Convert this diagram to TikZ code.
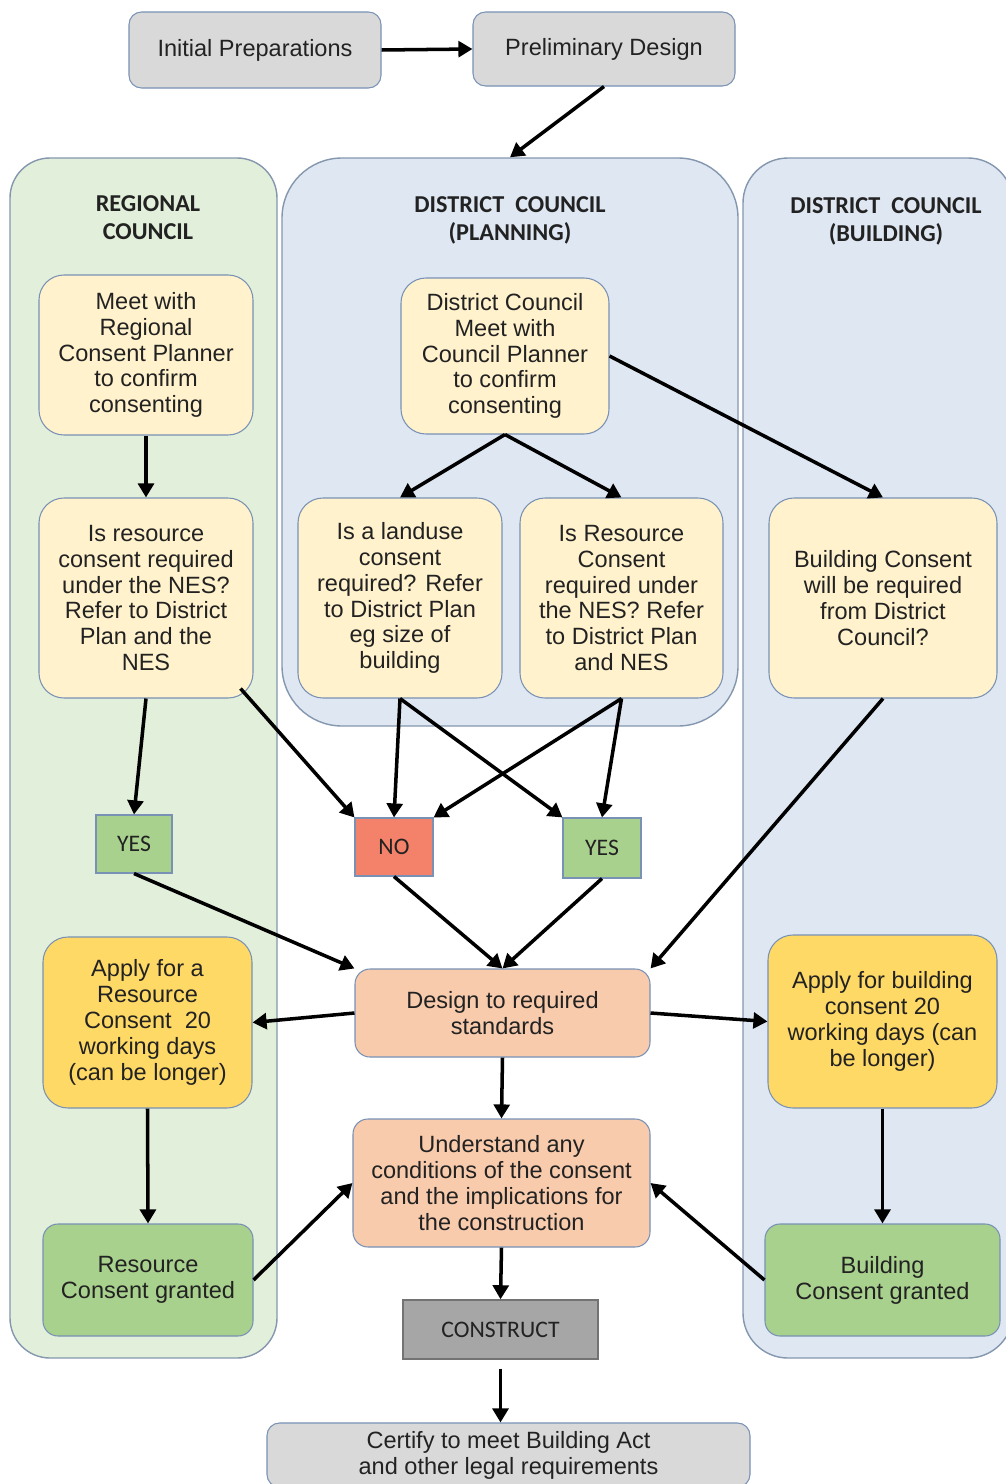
\documentclass[tikz,border=0pt]{standalone}
\usepackage{fontspec}
\setmainfont{Liberation Sans}
\newfontfamily\calib{Carlito}
\usetikzlibrary{arrows.meta,calc}
\definecolor{panelgreen}{HTML}{E2EFDA}
\definecolor{panelblue}{HTML}{DEE7F2}
\definecolor{panelline}{HTML}{8497AE}
\definecolor{nodeline}{HTML}{7891B5}
\definecolor{lightyel}{HTML}{FFF2CC}
\definecolor{yel}{HTML}{FFD966}
\definecolor{grn}{HTML}{A9D18E}
\definecolor{noc}{HTML}{F4816A}
\definecolor{peach}{HTML}{F8CBAD}
\definecolor{gry}{HTML}{D9D9D9}
\definecolor{dgry}{HTML}{A6A6A6}
\definecolor{txt}{HTML}{222222}
\begin{document}
\begin{tikzpicture}[x=0.02cm,y=-0.02cm,
  sz/.style 2 args={minimum width=#1*0.02cm, minimum height=#2*0.02cm},
  panel/.style={draw=panelline, line width=0.8pt, inner sep=0pt},
  hdr/.style={align=center, text=txt, font=\calib\bfseries\fontsize{13.8}{15.9}\selectfont},
  box/.style={draw=nodeline, line width=0.6pt, rounded corners=0.5cm, align=center, inner sep=0pt, text=txt, font=\fontsize{13.4}{14.7}\selectfont},
  sq/.style={draw=nodeline, line width=0.6pt, align=center, inner sep=0pt, text=txt, font=\calib\fontsize{13.5}{15}\selectfont},
  arr/.style={-{Triangle[length=8pt,width=9pt]}, line width=2pt, black}
]
\clip (0,0) rectangle (1006,1484);
% panels
\node[panel, fill=panelgreen, rounded corners=0.8cm, sz={267}{1200}] (regpanel) at (143.5,758) {};
\node[panel, fill=panelblue, rounded corners=1.2cm, sz={456}{568}] (planpanel) at (510,442) {};
\node[panel, fill=panelblue, rounded corners=0.9cm, sz={270}{1200}] (bldpanel) at (878,758) {};
% headers
\node[hdr] (reghdr) at (148,218) {REGIONAL\\COUNCIL};
\node[hdr] (planhdr) at (510,220) {DISTRICT\ \ COUNCIL\\(PLANNING)};
\node[hdr] (bldhdr) at (886,221) {DISTRICT\ \ COUNCIL\\(BUILDING)};
% top boxes
\node[box, fill=gry, rounded corners=0.25cm, sz={252}{76}] (init) at (255,50) {Initial Preparations};
\node[box, fill=gry, rounded corners=0.25cm, sz={262}{74}] (prelim) at (604,49) {Preliminary Design};
% regional
\node[box, fill=lightyel, sz={214}{160}] (rmeet) at (146,355) {Meet with\\Regional\\Consent Planner\\to confirm\\consenting};
\node[box, fill=lightyel, sz={214}{200}] (rq) at (146,598) {Is resource\\consent required\\under the NES?\\Refer to District\\Plan and the\\NES};
\node[sq, fill=grn, sz={76}{58}] (ryes) at (134,844) {YES};
\node[box, fill=yel, sz={209}{171}] (rapply) at (147.5,1022.5) {Apply for a\\Resource\\Consent\ \ 20\\working days\\(can be longer)};
\node[box, fill=grn, rounded corners=0.3cm, sz={210}{112}] (rgrant) at (148,1280) {Resource\\Consent granted};
% planning
\node[box, fill=lightyel, sz={208}{156}] (pmeet) at (505,356) {District Council\\Meet with\\Council Planner\\to confirm\\consenting};
\node[box, fill=lightyel, sz={204}{200}] (pland) at (400,598) {Is a landuse\\consent\\required? Refer\\to District Plan\\eg size of\\building};
\node[box, fill=lightyel, sz={203}{200}] (pres) at (621.5,598) {Is Resource\\Consent\\required under\\the NES? Refer\\to District Plan\\and NES};
\node[sq, fill=noc, sz={78}{58}] (no) at (394,847) {NO};
\node[sq, fill=grn, sz={78}{60}] (pyes) at (602,848) {YES};
% building
\node[box, fill=lightyel, sz={228}{200}] (bq) at (883,598) {Building Consent\\will be required\\from District\\Council?};
\node[box, fill=yel, sz={229}{173}] (bapply) at (882.5,1021.5) {Apply for building\\consent 20\\working days (can\\be longer)};
\node[box, fill=grn, rounded corners=0.3cm, sz={235}{112}] (bgrant) at (882.5,1280) {Building\\Consent granted};
% centre
\node[box, fill=peach, rounded corners=0.3cm, sz={295}{88}] (design) at (502.5,1013) {Design to required\\standards};
\node[box, fill=peach, rounded corners=0.3cm, sz={297}{128}] (underst) at (501.5,1183) {Understand any\\conditions of the consent\\and the implications for\\the construction};
\node[sq, fill=dgry, draw=black!55, line width=0.8pt, sz={195}{59}] (construct) at (500.5,1329.5) {CONSTRUCT};
\node[box, fill=gry, rounded corners=0.25cm, sz={483}{64}] (certify) at (508.5,1455) {Certify to meet Building Act\\and other legal requirements};
% arrows
\draw[arr] (init.east) -- (prelim.west);
\draw[arr] (prelim.south) -- (planpanel.north);
\draw[arr] (rmeet.south) -- (rq.north);
\draw[arr] (rq.south) -- (ryes.north);
\draw[arr] ($(rq.south east)+(-13,-10)$) -- (no.north west);
\draw[arr] (pmeet.south) -- (pland.north);
\draw[arr] (pmeet.south) -- (pres.north);
\draw[arr] (pmeet.east) -- (bq.north);
\draw[arr] (pland.south) -- (no.north);
\draw[arr] (pland.south) -- (pyes.north west);
\draw[arr] (pres.south) -- (no.north east);
\draw[arr] (pres.south) -- (pyes.north);
\draw[arr] (bq.south) -- (design.north east);
\draw[arr] (ryes.south) -- (design.north west);
\draw[arr] (no.south) -- (design.north);
\draw[arr] (pyes.south) -- (design.north);
\draw[arr] (design.west) -- (rapply.east);
\draw[arr] (design.east) -- (bapply.west);
\draw[arr] (design.south) -- (underst.north);
\draw[arr] (rapply.south) -- (rgrant.north);
\draw[arr] (bapply.south) -- (bgrant.north);
\draw[arr] (rgrant.east) -- (underst.west);
\draw[arr] (bgrant.west) -- (underst.east);
\draw[arr] (underst.south) -- (construct.north);
\draw[arr, shorten <=0.18cm] (construct.south) -- (construct.south |- certify.north);
\end{tikzpicture}
\end{document}
